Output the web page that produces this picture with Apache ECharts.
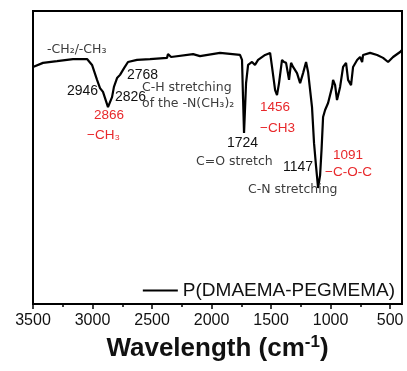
<!DOCTYPE html>
<html><head><meta charset="utf-8">
<script src="https://cdn.jsdelivr.net/npm/echarts@6/dist/echarts.min.js"></script>
<style>html,body{margin:0;padding:0;background:#fff}#c{width:407px;height:371px}</style>
</head><body><div id="c"></div>
<script>
const wavenumber = [3500,3416,3298,3164,3046,3004,2962,2937,2912,2870,2836,2820,2794,2769,2735,2702,2626,2517,2374,2366,2340,2155,2097,1929,1761,1744,1735,1727,1710,1693,1660,1635,1609,1550,1508,1492,1466,1450,1433,1408,1391,1374,1366,1349,1332,1315,1282,1256,1231,1206,1189,1156,1139,1122,1105,1088,1076,1063,1046,1021,987,979,962,946,920,895,870,853,828,811,777,752,735,727,668,609,559,517,475,416,400];
const transmittance = [80.9,82.3,82.9,83.6,83.6,81.6,76.5,73.7,72.4,67.2,70.6,74.1,77.1,78.2,80.5,82.6,83.3,83.6,84.0,85.3,84.3,85.3,84.6,85.7,85.0,83.3,69.6,58.4,75.4,81.6,82.6,81.6,83.3,85.0,85.7,80.9,73.0,71.3,75.4,83.3,82.6,82.3,82.6,76.5,82.3,80.9,78.8,75.4,78.8,82.6,79.2,67.2,54.9,47,39.6,44,52.6,63.8,66.2,68.6,74.1,76.5,74.7,69.6,74.1,80.9,82.3,76.5,74.7,80.9,83.3,84.3,82.6,85.0,85.7,85.0,84.0,82.6,84.3,86.0,86.7];
const majorTicks = [3500,3000,2500,2000,1500,1000,500];
const minorTicks = [3250,2750,2250,1750,1250,750];
const seriesName = 'P(DMAEMA-PEGMEMA)';
const annotations = [
  {t:'-CH₂/-CH₃', x:47, y:50, c:'gray'},
  {t:'2946', x:67, y:91, c:'black'},
  {t:'2768', x:127, y:75, c:'black'},
  {t:'2826', x:115, y:97, c:'black'},
  {t:'2866', x:94, y:115, c:'red'},
  {t:'−CH₃', x:87, y:135, c:'red'},
  {t:'C-H stretching', x:142, y:88, c:'gray'},
  {t:'of the -N(CH₃)₂', x:142, y:104, c:'gray'},
  {t:'1456', x:260, y:107, c:'red'},
  {t:'−CH3', x:260, y:128, c:'red'},
  {t:'1724', x:227, y:143, c:'black'},
  {t:'C=O stretch', x:196, y:162, c:'gray'},
  {t:'1147', x:283, y:167, c:'black'},
  {t:'1091', x:333, y:155, c:'red'},
  {t:'−C-O-C', x:325, y:172, c:'red'},
  {t:'C-N stretching', x:248, y:190, c:'gray'}
];
const styles = {
  gray: {fill:'#3c3c3c', fontFamily:'DejaVu Sans', fontSize:12.5},
  black: {fill:'#111', fontFamily:'Liberation Sans', fontSize:14},
  red: {fill:'#e8282b', fontFamily:'Liberation Sans', fontSize:13.5}
};
const chart = echarts.init(document.getElementById('c'), null, {renderer:'canvas'});
const data = wavenumber.map((w,i)=>[w, transmittance[i]]);
chart.setOption({
  animation:false,
  backgroundColor:'#fff',
  grid:{left:33, right:5, top:11, bottom:67, show:true, borderColor:'#000', borderWidth:2},
  xAxis:[{
    type:'value', min:400, max:3500, inverse:true,
    axisLine:{show:true, lineStyle:{color:'#000', width:2}},
    axisTick:{show:true, inside:false, length:5, lineStyle:{color:'#000', width:1.5}, customValues:majorTicks},
    axisLabel:{show:true, customValues:majorTicks, margin:9, color:'#111', fontFamily:'Liberation Sans', fontSize:16, formatter:v=>String(v)},
    splitLine:{show:false},
    name:'{b|Wavelength (cm}{s|-1}{b|)}',
    nameLocation:'middle', nameGap:29,
    nameTextStyle:{rich:{
      b:{fontFamily:'Liberation Sans', fontWeight:'bold', fontSize:26, color:'#111', lineHeight:30},
      s:{fontFamily:'Liberation Sans', fontWeight:'bold', fontSize:17, color:'#111', lineHeight:30, verticalAlign:'top'}
    }}
  },{
    type:'value', min:400, max:3500, inverse:true, position:'bottom', offset:0,
    axisLine:{show:false, onZero:false},
    axisTick:{show:true, inside:false, length:3, lineStyle:{color:'#000', width:1.5}, customValues:minorTicks},
    axisLabel:{show:false}, splitLine:{show:false}
  }],
  yAxis:{type:'value', min:0, max:100, axisLine:{show:true, lineStyle:{color:'#000', width:2}}, axisTick:{show:false}, axisLabel:{show:false}, splitLine:{show:false}},
  legend:{
    right:7, top:276, itemWidth:35, itemHeight:2, icon:'rect', itemGap:4,
    textStyle:{fontFamily:'Liberation Sans', fontSize:19, color:'#111'},
    data:[{name:seriesName, itemStyle:{color:'#000'}}]
  },
  series:[{
    name:seriesName, type:'line', data:data, showSymbol:false, symbol:'none',
    lineStyle:{color:'#000', width:2.2}, itemStyle:{color:'#000'}
  }],
  graphic: annotations.map(a=>({
    type:'text', x:a.x, y:a.y, z:100,
    style:Object.assign({text:a.t, align:'left', verticalAlign:'middle'}, styles[a.c])
  }))
});
</script></body></html>
